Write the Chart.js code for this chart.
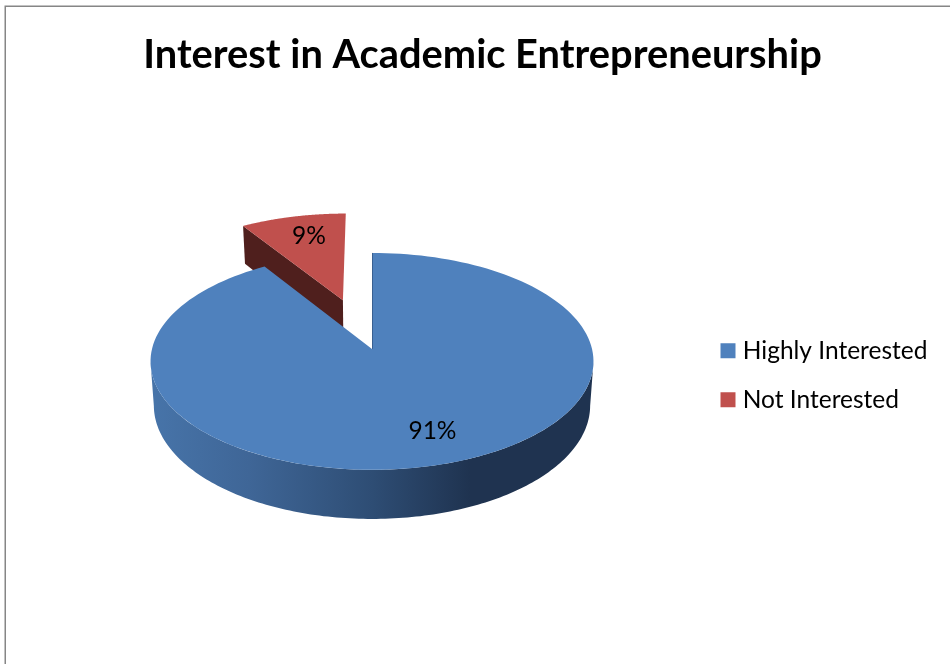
<!DOCTYPE html>
<html>
<head>
<meta charset="utf-8">
<style>
  html, body { margin: 0; padding: 0; background: #fff; }
  #wrap { width: 950px; height: 664px; position: relative; overflow: hidden; }
</style>
<script src="https://cdn.jsdelivr.net/npm/chart.js@4"></script>
</head>
<body>
<div id="wrap"><canvas id="chart" width="950" height="664"></canvas></div>
<script>
const categories = ['Highly Interested', 'Not Interested'];
const shares = [91, 9];
const faceColors = ['#4f81bd', '#c0504d'];
const sliceOffsets = [0, 110];
const titleText = 'Interest in Academic Entrepreneurship';

// Tilted-disc projection used to give the pie its 3D look.
const view = { squash: 107, perspective: 0.115, depth: 43.5, baseScale: 0.985, yShift: -0.5 };
const FONT = 'Lato, "Open Sans", sans-serif';

function project(arc, u, v, lower) {
  const R = arc.outerRadius;
  const s = 1 / (1 - view.perspective * v);
  const cy = arc.y + view.yShift;
  let x = arc.x + R * u * s;
  let y = cy + view.squash * v * s;
  if (lower) {
    x = arc.x + (x - arc.x) * view.baseScale;
    y += view.depth * s;
  }
  return [x, y];
}

function sliceOrigin(arc) {
  const mid = (arc.startAngle + arc.endAngle) / 2;
  const off = arc.options.offset || 0;
  return [off * Math.cos(mid) / arc.outerRadius, off * Math.sin(mid) / arc.outerRadius];
}

function rimPoints(arc, from, to, lower) {
  const [ou, ov] = sliceOrigin(arc);
  const pts = [];
  const steps = 160;
  for (let i = 0; i <= steps; i++) {
    const a = from + (to - from) * i / steps;
    pts.push(project(arc, ou + Math.cos(a), ov + Math.sin(a), lower));
  }
  return pts;
}

function tracePath(ctx, pts) {
  ctx.beginPath();
  pts.forEach((p, i) => (i ? ctx.lineTo(p[0], p[1]) : ctx.moveTo(p[0], p[1])));
  ctx.closePath();
}

function drawTop(ctx, arc, color) {
  const [ou, ov] = sliceOrigin(arc);
  const pts = [project(arc, ou, ov, false)].concat(rimPoints(arc, arc.startAngle, arc.endAngle, false));
  tracePath(ctx, pts);
  ctx.fillStyle = color;
  ctx.fill();
}

function drawPercent(ctx, arc, value, frac, nudge) {
  const [ou, ov] = sliceOrigin(arc);
  const mid = (arc.startAngle + arc.endAngle) / 2;
  const p = project(arc, ou + frac * Math.cos(mid), ov + frac * Math.sin(mid), false);
  ctx.fillStyle = '#000';
  ctx.font = '24.5px ' + FONT;
  ctx.textAlign = 'center';
  ctx.textBaseline = 'middle';
  ctx.fillText(value + '%', p[0] + nudge[0], p[1] + nudge[1]);
}

const pie3d = {
  id: 'pie3d',
  afterLayout(chart) {
    // Title spans the framed panel; the legend sits right of the pie.
    const t = chart.titleBlock;
    t.left = 15; t.right = 950;
    const l = chart.legend;
    l.left = 701; l.right = 950; l.top = 314; l.bottom = 560;
  },
  beforeDraw(chart) {
    const ctx = chart.ctx;
    ctx.save();
    ctx.fillStyle = '#fff';
    ctx.fillRect(0, 0, chart.width, chart.height);
    ctx.strokeStyle = '#868686';
    ctx.lineWidth = 1.5;
    ctx.beginPath();
    ctx.moveTo(5.25, 700);
    ctx.lineTo(5.25, 6.25);
    ctx.lineTo(960, 6.25);
    ctx.stroke();
    ctx.restore();
  },
  beforeDatasetDraw(chart, args) {
    const ctx = chart.ctx;
    const arcs = chart.getDatasetMeta(args.index).data;
    const [blue, red] = arcs;
    ctx.save();

    // Detached slice first: its cut face, then its top.
    const [ru, rv] = sliceOrigin(red);
    const cos = Math.cos(red.startAngle), sin = Math.sin(red.startAngle);
    tracePath(ctx, [
      project(red, ru, rv, false),
      project(red, ru + cos, rv + sin, false),
      project(red, ru + cos, rv + sin, true),
      project(red, ru, rv, true)
    ]);
    ctx.fillStyle = '#4f1f1d';
    ctx.fill();
    drawTop(ctx, red, faceColors[1]);

    // Main slice: front wall with a horizontal shade, then its top.
    const wall = rimPoints(blue, 0.12, Math.PI - 0.12, false)
      .concat(rimPoints(blue, 0.12, Math.PI - 0.12, true).reverse());
    const grad = ctx.createLinearGradient(151, 0, 594, 0);
    grad.addColorStop(0, '#4774a9');
    grad.addColorStop(0.22, '#3f6697');
    grad.addColorStop(0.5, '#2e4d74');
    grad.addColorStop(0.72, '#1f3350');
    grad.addColorStop(1, '#1f3350');
    tracePath(ctx, wall);
    ctx.fillStyle = grad;
    ctx.fill();
    drawTop(ctx, blue, faceColors[0]);

    // Thin dark sliver along the vertical cut of the main slice.
    const a = project(blue, 0, 0, false), b = project(blue, 0, -1, false);
    ctx.strokeStyle = 'rgba(40,70,110,0.55)';
    ctx.lineWidth = 1;
    ctx.beginPath();
    ctx.moveTo(a[0] + 0.5, a[1]);
    ctx.lineTo(b[0] + 0.5, b[1]);
    ctx.stroke();

    drawPercent(ctx, blue, shares[0], 0.74, [11, -1]);
    drawPercent(ctx, red, shares[1], 0.68, [1, -6]);
    ctx.restore();
    return false;
  }
};

new Chart(document.getElementById('chart'), {
  type: 'pie',
  data: {
    labels: categories,
    datasets: [{
      data: shares,
      backgroundColor: faceColors,
      borderWidth: 0,
      offset: sliceOffsets
    }]
  },
  options: {
    responsive: false,
    animation: false,
    radius: 220,
    layout: { autoPadding: false, padding: { left: 0, right: 206, top: 35, bottom: 40 } },
    plugins: {
      tooltip: { enabled: false },
      title: {
        display: true,
        text: titleText,
        color: '#000',
        font: { family: FONT, size: 39.8, weight: 'bold', lineHeight: 1 },
        padding: { top: 0, bottom: 0 }
      },
      legend: {
        position: 'chartArea',
        align: 'start',
        labels: {
          color: '#000',
          font: { family: FONT, size: 24.5, lineHeight: 1 },
          padding: 24.5,
          boxWidth: 5,
          boxHeight: 5,
          generateLabels(chart) {
            return categories.map((name, i) => ({
              text: name,
              fillStyle: faceColors[i],
              strokeStyle: faceColors[i],
              lineWidth: 10,
              index: i
            }));
          }
        }
      }
    }
  },
  plugins: [pie3d]
});
</script>
</body>
</html>
